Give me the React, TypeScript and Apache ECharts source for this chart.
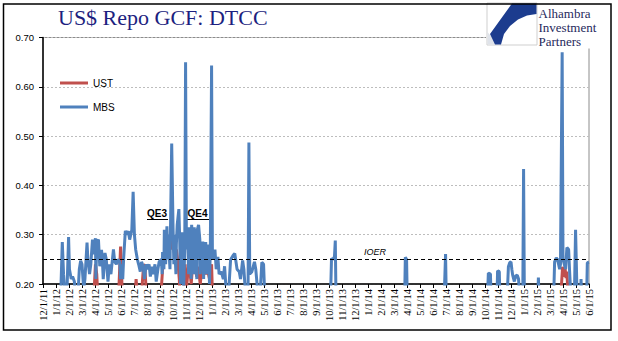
import React, { useEffect, useRef } from "react";
import * as echarts from "echarts";

const monthLabels = [
  "12/1/11", "1/1/12", "2/1/12", "3/1/12", "4/1/12", "5/1/12", "6/1/12", "7/1/12", "8/1/12", "9/1/12",
  "10/1/12", "11/1/12", "12/1/12", "1/1/13", "2/1/13", "3/1/13", "4/1/13", "5/1/13", "6/1/13", "7/1/13",
  "8/1/13", "9/1/13", "10/1/13", "11/1/13", "12/1/13", "1/1/14", "2/1/14", "3/1/14", "4/1/14", "5/1/14",
  "6/1/14", "7/1/14", "8/1/14", "9/1/14", "10/1/14", "11/1/14", "12/1/14", "1/1/15", "2/1/15", "3/1/15",
  "4/1/15", "5/1/15", "6/1/15",
];

const mbs2012: [string, number][] = [
  ["2011-12-01", 0.12], ["2012-01-09", 0.14], ["2012-01-12", 0.17], ["2012-01-16", 0.285], ["2012-01-19", 0.22],
  ["2012-01-23", 0.17], ["2012-01-27", 0.18], ["2012-01-31", 0.295], ["2012-02-02", 0.23], ["2012-02-06", 0.21],
  ["2012-02-09", 0.215], ["2012-02-13", 0.205], ["2012-02-16", 0.17], ["2012-02-21", 0.18], ["2012-02-24", 0.23],
  ["2012-02-27", 0.247], ["2012-03-01", 0.24], ["2012-03-05", 0.19], ["2012-03-08", 0.21], ["2012-03-13", 0.284],
  ["2012-03-15", 0.25], ["2012-03-19", 0.22], ["2012-03-22", 0.24], ["2012-03-26", 0.29], ["2012-03-29", 0.26],
  ["2012-04-02", 0.293], ["2012-04-03", 0.21], ["2012-04-05", 0.285], ["2012-04-09", 0.29], ["2012-04-12", 0.236],
  ["2012-04-16", 0.269], ["2012-04-18", 0.25], ["2012-04-20", 0.21], ["2012-04-24", 0.263], ["2012-04-27", 0.25],
  ["2012-05-01", 0.205], ["2012-05-04", 0.24], ["2012-05-08", 0.22], ["2012-05-14", 0.27], ["2012-05-17", 0.245],
  ["2012-05-21", 0.24], ["2012-05-24", 0.25], ["2012-05-29", 0.245], ["2012-05-31", 0.21], ["2012-06-01", 0.24],
  ["2012-06-05", 0.21], ["2012-06-07", 0.25], ["2012-06-11", 0.308], ["2012-06-14", 0.3], ["2012-06-18", 0.307],
  ["2012-06-21", 0.29], ["2012-06-26", 0.31], ["2012-06-29", 0.387], ["2012-07-02", 0.3], ["2012-07-05", 0.27],
  ["2012-07-09", 0.25], ["2012-07-12", 0.24], ["2012-07-16", 0.225], ["2012-07-19", 0.245], ["2012-07-23", 0.235],
  ["2012-07-26", 0.21], ["2012-07-30", 0.24], ["2012-08-02", 0.23], ["2012-08-06", 0.24], ["2012-08-09", 0.215],
  ["2012-08-13", 0.235], ["2012-08-16", 0.22], ["2012-08-20", 0.24], ["2012-08-23", 0.205], ["2012-08-27", 0.23],
  ["2012-08-30", 0.245], ["2012-09-04", 0.25], ["2012-09-06", 0.22], ["2012-09-07", 0.265], ["2012-09-10", 0.23],
  ["2012-09-11", 0.31], ["2012-09-13", 0.29], ["2012-09-14", 0.24], ["2012-09-17", 0.317], ["2012-09-19", 0.25],
  ["2012-09-20", 0.3], ["2012-09-24", 0.23], ["2012-09-25", 0.3], ["2012-09-28", 0.485], ["2012-10-01", 0.32],
  ["2012-10-03", 0.24], ["2012-10-04", 0.3], ["2012-10-08", 0.22], ["2012-10-09", 0.28], ["2012-10-11", 0.32],
  ["2012-10-15", 0.352], ["2012-10-17", 0.29], ["2012-10-19", 0.2], ["2012-10-22", 0.305], ["2012-10-25", 0.26],
  ["2012-10-26", 0.18], ["2012-10-29", 0.27], ["2012-10-31", 0.65], ["2012-11-02", 0.27], ["2012-11-05", 0.3],
  ["2012-11-07", 0.22], ["2012-11-08", 0.315], ["2012-11-12", 0.26], ["2012-11-13", 0.21], ["2012-11-14", 0.32],
  ["2012-11-16", 0.29], ["2012-11-19", 0.22], ["2012-11-20", 0.315], ["2012-11-23", 0.27], ["2012-11-26", 0.21],
  ["2012-11-27", 0.31], ["2012-11-30", 0.32], ["2012-12-03", 0.29], ["2012-12-04", 0.22], ["2012-12-06", 0.27],
  ["2012-12-10", 0.286], ["2012-12-12", 0.21], ["2012-12-13", 0.25], ["2012-12-17", 0.285], ["2012-12-19", 0.22],
  ["2012-12-20", 0.26], ["2012-12-24", 0.28], ["2012-12-26", 0.2], ["2012-12-28", 0.27], ["2012-12-31", 0.643],
];

const mbs2013: [string, number][] = [
  ["2013-01-02", 0.26], ["2013-01-04", 0.25], ["2013-01-08", 0.27], ["2013-01-11", 0.23], ["2013-01-15", 0.255],
  ["2013-01-18", 0.22], ["2013-01-23", 0.225], ["2013-01-28", 0.21], ["2013-01-31", 0.236], ["2013-02-04", 0.18],
  ["2013-02-08", 0.17], ["2013-02-13", 0.249], ["2013-02-19", 0.259], ["2013-02-22", 0.262], ["2013-02-27", 0.23],
  ["2013-03-04", 0.225], ["2013-03-07", 0.21], ["2013-03-12", 0.248], ["2013-03-15", 0.23], ["2013-03-19", 0.18],
  ["2013-03-25", 0.19], ["2013-03-27", 0.487], ["2013-03-29", 0.22], ["2013-04-03", 0.225], ["2013-04-09", 0.245],
  ["2013-04-12", 0.23], ["2013-04-17", 0.18], ["2013-04-22", 0.18], ["2013-04-26", 0.244], ["2013-04-30", 0.24],
  ["2013-05-03", 0.17], ["2013-10-04", 0.15], ["2013-10-07", 0.252], ["2013-10-10", 0.25], ["2013-10-14", 0.255],
  ["2013-10-16", 0.288], ["2013-10-18", 0.15],
];

const mbs2014: [string, number][] = [
  ["2014-03-26", 0.15], ["2014-03-28", 0.254], ["2014-03-31", 0.25], ["2014-04-02", 0.15],
  ["2014-06-26", 0.15], ["2014-06-30", 0.261], ["2014-07-02", 0.15],
  ["2014-10-06", 0.15], ["2014-10-09", 0.222], ["2014-10-14", 0.22], ["2014-10-16", 0.15],
  ["2014-10-29", 0.15], ["2014-10-31", 0.227], ["2014-11-04", 0.225], ["2014-11-06", 0.15],
  ["2014-11-21", 0.15], ["2014-11-25", 0.235], ["2014-11-28", 0.243], ["2014-12-01", 0.245], ["2014-12-03", 0.23],
  ["2014-12-05", 0.218], ["2014-12-09", 0.205], ["2014-12-12", 0.216], ["2014-12-16", 0.218], ["2014-12-19", 0.21],
  ["2014-12-23", 0.16], ["2014-12-29", 0.16], ["2014-12-31", 0.433],
];

const mbs2015: [string, number][] = [
  ["2015-01-02", 0.15], ["2015-02-02", 0.15], ["2015-02-04", 0.213], ["2015-02-06", 0.15],
  ["2015-03-09", 0.15], ["2015-03-12", 0.245], ["2015-03-16", 0.253], ["2015-03-19", 0.25], ["2015-03-24", 0.23],
  ["2015-03-26", 0.24], ["2015-03-30", 0.67], ["2015-04-01", 0.25], ["2015-04-07", 0.23], ["2015-04-10", 0.274],
  ["2015-04-14", 0.27], ["2015-04-16", 0.23], ["2015-04-20", 0.16], ["2015-04-27", 0.16], ["2015-04-30", 0.31],
  ["2015-05-04", 0.16], ["2015-05-11", 0.16], ["2015-05-13", 0.21], ["2015-05-15", 0.16], ["2015-05-26", 0.16],
  ["2015-05-28", 0.243], ["2015-06-01", 0.244],
];

const ust2012: [string, number][] = [
  ["2011-12-01", 0.1], ["2012-03-28", 0.15], ["2012-04-02", 0.24], ["2012-04-05", 0.22], ["2012-04-09", 0.15],
  ["2012-05-25", 0.15], ["2012-05-31", 0.276], ["2012-06-04", 0.18], ["2012-07-03", 0.17], ["2012-07-06", 0.21],
  ["2012-07-10", 0.17], ["2012-07-19", 0.18], ["2012-07-24", 0.24], ["2012-07-27", 0.235], ["2012-07-31", 0.17],
  ["2012-09-04", 0.19], ["2012-09-07", 0.23], ["2012-09-11", 0.25], ["2012-09-14", 0.27], ["2012-09-18", 0.26],
  ["2012-09-21", 0.28], ["2012-09-25", 0.27], ["2012-09-28", 0.29], ["2012-10-02", 0.275], ["2012-10-05", 0.26],
  ["2012-10-09", 0.27], ["2012-10-12", 0.25], ["2012-10-16", 0.21], ["2012-10-19", 0.15], ["2012-10-26", 0.17],
  ["2012-10-30", 0.24], ["2012-11-01", 0.18], ["2012-11-05", 0.22], ["2012-11-08", 0.245], ["2012-11-13", 0.2],
  ["2012-11-16", 0.235], ["2012-11-20", 0.24], ["2012-11-26", 0.215], ["2012-11-29", 0.235], ["2012-12-04", 0.2],
  ["2012-12-07", 0.225], ["2012-12-12", 0.23], ["2012-12-17", 0.22], ["2012-12-20", 0.235], ["2012-12-26", 0.21],
  ["2012-12-31", 0.24], ["2013-01-03", 0.15],
];

const ust2015: [string, number][] = [
  ["2015-03-25", 0.15], ["2015-03-31", 0.235], ["2015-04-02", 0.215], ["2015-04-06", 0.23], ["2015-04-08", 0.212],
  ["2015-04-10", 0.225], ["2015-04-14", 0.15], ["2015-06-01", 0.12],
];

const ioer = 0.25;

function toMonth(s: string): number {
  const [y, mo, d] = s.split("-").map(Number);
  const dim = new Date(y, mo, 0).getDate();
  return (y - 2011) * 12 + (mo - 12) + (d - 1) / dim;
}
const toPts = (arr: [string, number][]) => arr.map(([d, v]) => [toMonth(d), v]);

export default function App() {
  const ref = useRef<HTMLDivElement>(null);
  useEffect(() => {
    if (!ref.current) return;
    const chart = echarts.init(ref.current, null, { renderer: "svg" });
    const navy = "#1d1f80";
    const logoText = "#1f2a5c";
    const option: any = {
      animation: false,
      backgroundColor: "#fff",
      grid: { left: 43, right: 29, top: 37.5, bottom: 57, show: true, borderColor: "#8c8c8c", borderWidth: 1 },
      legend: {
        orient: "vertical",
        left: 55,
        top: 72,
        icon: "rect",
        itemWidth: 28,
        itemHeight: 3,
        itemGap: 12,
        selectedMode: false,
        textStyle: { fontSize: 10, fontFamily: "Liberation Sans", color: "#000", lineHeight: 12 },
        data: ["UST", "MBS"],
      },
      xAxis: {
        type: "value",
        min: 0,
        max: 42,
        interval: 1,
        axisLine: { lineStyle: { color: "#000", width: 1.5 } },
        axisTick: { show: true, length: 4, lineStyle: { color: "#000" } },
        axisLabel: {
          rotate: 90,
          fontSize: 10.5,
          fontFamily: "Liberation Serif",
          color: "#000",
          margin: 5,
          formatter: (v: number) => monthLabels[Math.round(v)] ?? "",
        },
        splitLine: { show: false },
      },
      yAxis: {
        type: "value",
        min: 0.2,
        max: 0.7,
        interval: 0.1,
        axisLine: { show: true, lineStyle: { color: "#000", width: 1.5 } },
        axisTick: { show: true, length: 4, lineStyle: { color: "#000" } },
        axisLabel: {
          fontSize: 9.5,
          fontFamily: "Liberation Sans",
          color: "#000",
          margin: 9,
          formatter: (v: number) => v.toFixed(2),
        },
        splitLine: { lineStyle: { color: "#bdbdbd", type: [2, 2], width: 1 } },
      },
      series: [
        {
          name: "UST",
          type: "line",
          data: toPts([...ust2012, ...ust2015]),
          symbol: "none",
          showSymbol: false,
          clip: true,
          lineStyle: { color: "#C0504D", width: 3 },
          itemStyle: { color: "#C0504D" },
          z: 2,
        },
        {
          name: "MBS",
          type: "line",
          data: toPts([...mbs2012, ...mbs2013, ...mbs2014, ...mbs2015]),
          symbol: "none",
          showSymbol: false,
          clip: true,
          lineStyle: { color: "#4F81BD", width: 3 },
          itemStyle: { color: "#4F81BD" },
          z: 3,
          markLine: {
            silent: true,
            symbol: "none",
            label: { show: false },
            lineStyle: { color: "#000", type: [4, 3], width: 1 },
            data: [{ yAxis: ioer }],
          },
        },
      ],
      graphic: [
        { type: "rect", z: 100, shape: { x: 486, y: 4.5, width: 125, height: 44 }, style: { fill: "#fff" } },
        { type: "rect", z: 101, shape: { x: 487, y: 3, width: 50, height: 42 }, style: { fill: "#fff", stroke: "#cfcfcf", lineWidth: 1 } },
        { type: "polygon", z: 102, shape: { points: [[487.5, 32], [498, 44.5], [487.5, 44.5]] }, style: { fill: "#dfe3ea" } },
        {
          type: "polygon",
          z: 103,
          shape: {
            points: [[512, 3.5], [536.5, 3.5], [536.5, 14], [527, 15.5], [518, 19.5], [510, 26], [504, 34], [501, 44.5], [495, 44.5], [490, 34]],
          },
          style: { fill: "#1c3c8e" },
        },
        { type: "text", z: 104, x: 538.5, y: 13.5, style: { text: "Alhambra", font: "13px 'Liberation Serif'", fill: logoText, verticalAlign: "middle" } },
        { type: "text", z: 104, x: 538.5, y: 27.5, style: { text: "Investment", font: "13px 'Liberation Serif'", fill: logoText, verticalAlign: "middle" } },
        { type: "text", z: 104, x: 538.5, y: 41.5, style: { text: "Partners", font: "13px 'Liberation Serif'", fill: logoText, verticalAlign: "middle" } },
        { type: "text", z: 104, x: 58, y: 17.5, style: { text: "US$ Repo GCF: DTCC", font: "22px 'Liberation Serif'", fill: navy, verticalAlign: "middle" } },
        { type: "text", z: 104, x: 147, y: 213.5, style: { text: "QE3", font: "bold 10px 'Liberation Sans'", fill: "#000", verticalAlign: "middle" } },
        { type: "line", z: 104, shape: { x1: 147, y1: 219.5, x2: 168, y2: 219.5 }, style: { stroke: "#000", lineWidth: 1 } },
        { type: "text", z: 104, x: 187.5, y: 213.5, style: { text: "QE4", font: "bold 10px 'Liberation Sans'", fill: "#000", verticalAlign: "middle" } },
        { type: "line", z: 104, shape: { x1: 187.5, y1: 219.5, x2: 209, y2: 219.5 }, style: { stroke: "#000", lineWidth: 1 } },
        { type: "text", z: 104, x: 364, y: 252, style: { text: "IOER", font: "italic 9px 'Liberation Sans'", fill: "#000", verticalAlign: "middle" } },
        { type: "rect", z: 110, shape: { x: 3.5, y: 4, width: 607.5, height: 326 }, style: { fill: "none", stroke: "#000", lineWidth: 1.5 } },
      ],
    };
    chart.setOption(option);
    return () => chart.dispose();
  }, []);
  return (
    <div
      ref={ref}
      style={{ position: "fixed", left: 0, top: 0, width: 618, height: 341, background: "#fff" }}
    />
  );
}
